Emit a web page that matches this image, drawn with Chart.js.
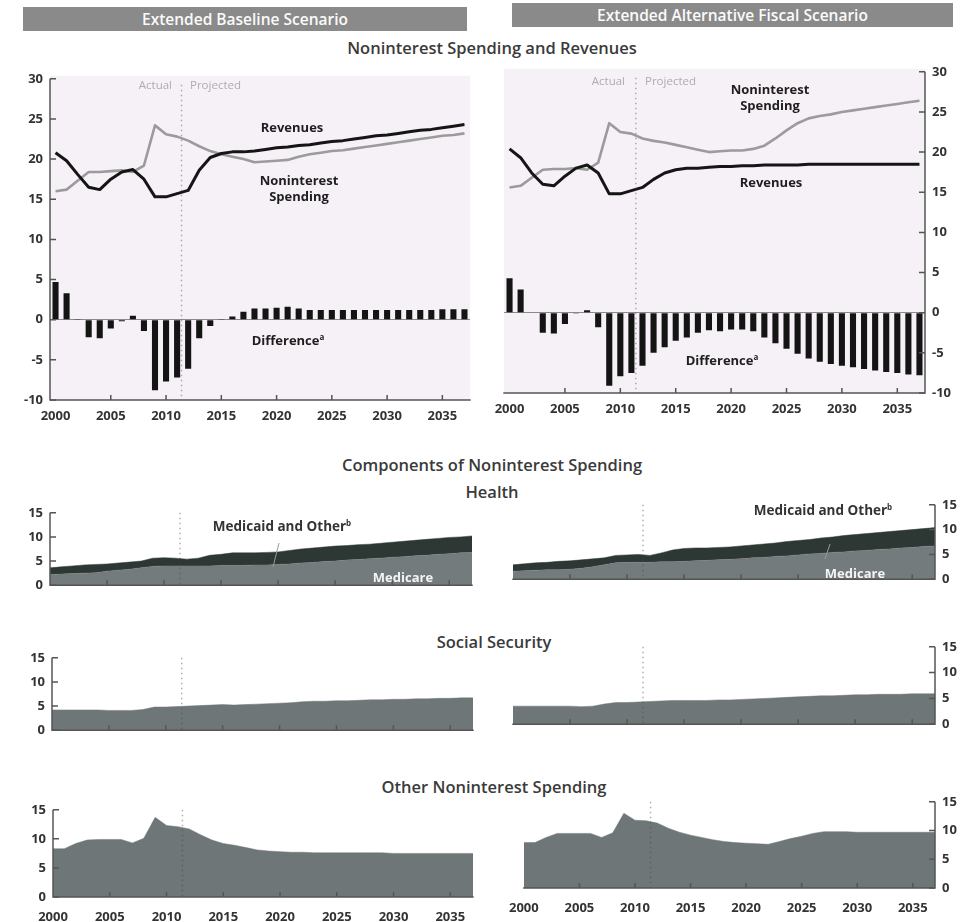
<!DOCTYPE html>
<html>
<head>
<meta charset="utf-8">
<script src="https://cdn.jsdelivr.net/npm/chart.js@4.4.1/dist/chart.umd.min.js"></script>
<style>
  html, body { margin: 0; padding: 0; background: #fff; }
  body { position: relative; width: 961px; height: 922px; overflow: hidden; font-family: "Open Sans", "Noto Sans", sans-serif; }
  .box { position: absolute; }
  .banner { position: absolute; height: 24px; line-height: 24px; background: #8a8a8a; color: #fbfbfb; font-weight: 600; font-size: 15.5px; text-align: center; }
  .c { position: absolute; transform: translate(-50%, -50%); white-space: nowrap; font-weight: 700; line-height: 1.2; text-align: center; color: #2a2a2a; }
  .head { font-size: 16.5px; color: #3a3a3a; font-weight: 600; }
  .lbl { font-size: 13px; color: #1e1e1e; }
  .note { font-size: 11.5px; font-weight: 400; color: #adadad; transform: translate(0, -50%); }
  .noteR { font-size: 11.5px; font-weight: 400; color: #adadad; transform: translate(-100%, -50%); }
  .white { color: #f4f4f4; font-size: 13px; }
  sup { font-size: 8px; vertical-align: 5px; line-height: 0; }
</style>
</head>
<body>

<div class="banner" style="left:23px; top:7px; width:444px;">Extended Baseline Scenario</div>
<div class="banner" style="left:512px; top:3px; width:441px;">Extended Alternative Fiscal Scenario</div>

<div class="c head" style="left:492px; top:48px;">Noninterest Spending and Revenues</div>

<div class="box" id="wTopL"><canvas id="topL"></canvas></div>
<div class="box" id="wTopR"><canvas id="topR"></canvas></div>

<div class="c head" style="left:492px; top:465px;">Components of Noninterest Spending</div>
<div class="c head" style="left:492px; top:492px;">Health</div>
<div class="box" id="wHealthL"><canvas id="healthL"></canvas></div>
<div class="box" id="wHealthR"><canvas id="healthR"></canvas></div>

<div class="c head" style="left:494px; top:642px;">Social Security</div>
<div class="box" id="wSocialL"><canvas id="socialL"></canvas></div>
<div class="box" id="wSocialR"><canvas id="socialR"></canvas></div>

<div class="c head" style="left:494px; top:787px;">Other Noninterest Spending</div>
<div class="box" id="wOtherL"><canvas id="otherL"></canvas></div>
<div class="box" id="wOtherR"><canvas id="otherR"></canvas></div>

<!-- annotations, upper panels -->
<div class="c noteR" style="left:172px; top:85px;">Actual</div>
<div class="c note" style="left:190px; top:85px;">Projected</div>
<div class="c noteR" style="left:625px; top:81px;">Actual</div>
<div class="c note" style="left:645px; top:81px;">Projected</div>

<div class="c lbl" style="left:292px; top:128px;">Revenues</div>
<div class="c lbl" style="left:299px; top:189px;">Noninterest<br>Spending</div>
<div class="c lbl" style="left:288px; top:341px;">Difference<sup>a</sup></div>

<div class="c lbl" style="left:770px; top:98px;">Noninterest<br>Spending</div>
<div class="c lbl" style="left:771px; top:183px;">Revenues</div>
<div class="c lbl" style="left:722px; top:361px;">Difference<sup>a</sup></div>

<!-- annotations, health panels -->
<div class="c lbl" style="left:282px; top:526px; color:#333; font-size:13.5px;">Medicaid and Other<sup>b</sup></div>
<div class="c white" style="left:403px; top:578px;">Medicare</div>
<div class="c lbl" style="left:823px; top:510px; color:#333; font-size:13.5px;">Medicaid and Other<sup>b</sup></div>
<div class="c white" style="left:855px; top:574px;">Medicare</div>
<svg class="box" style="left:0; top:0;" width="961" height="922">
  <line x1="279" y1="543" x2="273" y2="567" stroke="#9a9a9a" stroke-width="1"/>
  <line x1="830" y1="544" x2="825" y2="559" stroke="#9a9a9a" stroke-width="1"/>
</svg>

<script>
// Fiscal years shown on every panel
const years = [2000, 2001, 2002, 2003, 2004, 2005, 2006, 2007, 2008, 2009,
               2010, 2011, 2012, 2013, 2014, 2015, 2016, 2017, 2018, 2019,
               2020, 2021, 2022, 2023, 2024, 2025, 2026, 2027, 2028, 2029,
               2030, 2031, 2032, 2033, 2034, 2035, 2036, 2037];
const yearTicks = [2000, 2005, 2010, 2015, 2020, 2025, 2030, 2035];
const projectionStart = 2011.4;   // boundary between actual and projected years

// Percentage of GDP — extended baseline scenario
const revenuesBaseline = [20.8, 19.8, 18.1, 16.5, 16.2, 17.5, 18.4, 18.7, 17.5, 15.3,
                          15.3, 15.7, 16.1, 18.6, 20.2, 20.7, 20.9, 20.9, 21.0, 21.2,
                          21.4, 21.5, 21.7, 21.8, 22.0, 22.2, 22.3, 22.5, 22.7, 22.9,
                          23.0, 23.2, 23.4, 23.6, 23.7, 23.9, 24.1, 24.3];
const spendingBaseline = [16.0, 16.2, 17.3, 18.4, 18.4, 18.5, 18.6, 18.4, 19.2, 24.2,
                          23.1, 22.8, 22.3, 21.6, 21.0, 20.6, 20.3, 20.0, 19.6, 19.7,
                          19.8, 19.9, 20.3, 20.6, 20.8, 21.0, 21.1, 21.3, 21.5, 21.7,
                          21.9, 22.1, 22.3, 22.5, 22.7, 22.9, 23.0, 23.2];
const differenceBaseline = [4.7, 3.3, 0.1, -2.2, -2.3, -1.1, -0.2, 0.5, -1.4, -8.8,
                            -7.7, -7.2, -6.1, -2.3, -0.8, 0.1, 0.4, 1.0, 1.4, 1.4,
                            1.5, 1.6, 1.4, 1.2, 1.2, 1.2, 1.2, 1.2, 1.2, 1.2,
                            1.2, 1.2, 1.2, 1.2, 1.2, 1.3, 1.3, 1.3];

// Percentage of GDP — extended alternative fiscal scenario
const revenuesAlternative = [20.4, 19.3, 17.4, 16.0, 15.8, 17.0, 18.0, 18.4, 17.4, 14.8,
                             14.8, 15.2, 15.6, 16.6, 17.4, 17.8, 18.0, 18.0, 18.1, 18.2,
                             18.2, 18.3, 18.3, 18.4, 18.4, 18.4, 18.4, 18.5, 18.5, 18.5,
                             18.5, 18.5, 18.5, 18.5, 18.5, 18.5, 18.5, 18.5];
const spendingAlternative = [15.6, 15.8, 16.8, 17.8, 17.9, 17.9, 18.0, 17.8, 18.7, 23.6,
                             22.5, 22.3, 21.7, 21.4, 21.2, 20.9, 20.6, 20.3, 20.0, 20.1,
                             20.2, 20.2, 20.4, 20.8, 21.7, 22.7, 23.6, 24.2, 24.5, 24.7,
                             25.0, 25.2, 25.4, 25.6, 25.8, 26.0, 26.2, 26.4];
const differenceAlternative = [4.3, 2.9, 0.05, -2.5, -2.6, -1.4, -0.1, 0.3, -1.8, -9.1,
                               -7.9, -7.5, -6.6, -5.0, -4.3, -3.5, -3.1, -2.5, -2.2, -2.3,
                               -2.1, -2.1, -2.3, -3.1, -3.8, -4.5, -5.1, -5.7, -6.1, -6.4,
                               -6.6, -6.8, -7.0, -7.2, -7.4, -7.5, -7.7, -7.8];

// Components of noninterest spending, percentage of GDP
const medicareBaseline = [2.2, 2.3, 2.4, 2.5, 2.6, 2.9, 3.1, 3.3, 3.6, 3.9,
                          4.0, 4.0, 4.0, 4.0, 4.0, 4.1, 4.1, 4.1, 4.2, 4.2,
                          4.3, 4.4, 4.6, 4.7, 4.9, 5.0, 5.2, 5.3, 5.5, 5.6,
                          5.8, 5.9, 6.1, 6.2, 6.4, 6.5, 6.7, 6.8];
const medicaidOtherBaseline = [1.4, 1.5, 1.6, 1.7, 1.7, 1.5, 1.5, 1.5, 1.4, 1.7,
                               1.7, 1.6, 1.4, 1.6, 2.2, 2.3, 2.6, 2.6, 2.5, 2.6,
                               2.6, 2.8, 2.9, 3.0, 3.0, 3.1, 3.0, 3.1, 3.0, 3.1,
                               3.1, 3.2, 3.2, 3.3, 3.3, 3.4, 3.3, 3.4];
const medicareAlternative = [1.6, 1.7, 1.8, 1.9, 1.9, 2.0, 2.2, 2.5, 2.9, 3.3,
                             3.4, 3.4, 3.4, 3.5, 3.5, 3.6, 3.7, 3.8, 3.9, 4.0,
                             4.1, 4.3, 4.4, 4.6, 4.7, 4.9, 5.1, 5.2, 5.4, 5.5,
                             5.7, 5.8, 6.0, 6.1, 6.3, 6.4, 6.6, 6.7];
const medicaidOtherAlternative = [1.3, 1.4, 1.5, 1.5, 1.7, 1.7, 1.7, 1.6, 1.4, 1.5,
                                  1.5, 1.6, 1.4, 1.8, 2.4, 2.6, 2.6, 2.5, 2.5, 2.5,
                                  2.6, 2.6, 2.7, 2.7, 2.9, 2.9, 2.9, 3.1, 3.1, 3.3,
                                  3.3, 3.4, 3.4, 3.5, 3.5, 3.6, 3.6, 3.7];
const socialSecurityBaseline = [4.2, 4.2, 4.2, 4.2, 4.2, 4.1, 4.1, 4.1, 4.3, 4.8,
                                4.8, 4.9, 5.0, 5.1, 5.2, 5.3, 5.2, 5.3, 5.4, 5.5,
                                5.6, 5.7, 5.9, 6.0, 6.0, 6.1, 6.1, 6.2, 6.3, 6.3,
                                6.4, 6.4, 6.5, 6.5, 6.6, 6.6, 6.7, 6.7];
const socialSecurityAlternative = [3.5, 3.5, 3.5, 3.5, 3.5, 3.5, 3.4, 3.5, 3.9, 4.2,
                                   4.2, 4.3, 4.4, 4.5, 4.6, 4.6, 4.6, 4.6, 4.7, 4.7,
                                   4.8, 4.9, 5.0, 5.1, 5.2, 5.3, 5.4, 5.5, 5.5, 5.6,
                                   5.7, 5.7, 5.8, 5.8, 5.8, 5.9, 5.9, 5.9];
const otherSpendingBaseline = [8.3, 8.3, 9.2, 9.8, 9.9, 9.9, 9.9, 9.3, 10.1, 13.7,
                               12.3, 12.1, 11.7, 10.7, 9.8, 9.2, 8.9, 8.5, 8.1, 7.9,
                               7.8, 7.7, 7.7, 7.6, 7.6, 7.6, 7.6, 7.6, 7.6, 7.6,
                               7.5, 7.5, 7.5, 7.5, 7.5, 7.5, 7.5, 7.5];
const otherSpendingAlternative = [7.9, 7.9, 8.8, 9.5, 9.5, 9.5, 9.5, 8.8, 9.6, 13.0,
                                  11.8, 11.7, 11.3, 10.4, 9.7, 9.2, 8.8, 8.4, 8.1, 7.9,
                                  7.8, 7.7, 7.6, 8.1, 8.6, 9.0, 9.5, 9.8, 9.8, 9.8,
                                  9.7, 9.7, 9.7, 9.7, 9.7, 9.7, 9.7, 9.7];

// Axis ranges
const balanceRange = [-10, 30];
const componentRange = [0, 15];

const INK = '#555555';
const tickFont = { family: '"Open Sans", "Noto Sans", sans-serif', size: 13, weight: '700' };

// Plot background, actual/projected divider, axis lines and inward tick marks
const framePlugin = {
  id: 'frame',
  beforeDraw(chart, args, opts) {
    if (!opts.background) return;
    const { ctx, chartArea: a } = chart;
    ctx.save();
    ctx.fillStyle = opts.background;
    ctx.fillRect(a.left, a.top - 3, a.right - a.left, a.bottom - a.top + 3);
    ctx.restore();
  },
  afterDatasetsDraw(chart, args, opts) {
    const { ctx, chartArea: a, scales: { x } } = chart;
    const i = years.indexOf(Math.floor(projectionStart));
    const p0 = x.getPixelForValue(i), p1 = x.getPixelForValue(i + 1);
    const px = p0 + (projectionStart - years[i]) * (p1 - p0);
    ctx.save();
    ctx.strokeStyle = 'rgba(70,70,70,0.45)';
    ctx.lineWidth = 1.4;
    ctx.setLineDash([1.5, 3.5]);
    ctx.beginPath();
    ctx.moveTo(px, a.top + (opts.dividerInset || 0));
    ctx.lineTo(px, a.bottom);
    ctx.stroke();
    ctx.restore();
  },
  afterDraw(chart) {
    const { ctx, chartArea: a, scales: { x, y } } = chart;
    const left = y.position === 'left';
    const ax = left ? a.left : a.right;
    const dir = left ? 1 : -1;
    ctx.save();
    ctx.setLineDash([]);
    ctx.strokeStyle = INK;
    ctx.lineWidth = 1.5;
    ctx.lineCap = 'butt';
    // axis lines
    ctx.beginPath();
    ctx.moveTo(ax, a.top);
    ctx.lineTo(ax, a.bottom);
    ctx.moveTo(a.left - 0.7, a.bottom);
    ctx.lineTo(a.right + 0.7, a.bottom);
    ctx.stroke();
    // inward ticks on the value axis
    ctx.beginPath();
    y.ticks.forEach(t => {
      const py = y.getPixelForValue(t.value);
      ctx.moveTo(ax, py);
      ctx.lineTo(ax + dir * 6, py);
    });
    // inward ticks on the year axis
    yearTicks.forEach(yr => {
      const idx = years.indexOf(yr);
      if (idx <= 0) return;
      const tx = x.getPixelForValue(idx);
      ctx.moveTo(tx, a.bottom);
      ctx.lineTo(tx, a.bottom - 5);
    });
    ctx.stroke();
    ctx.restore();
  }
};

// Positions a chart's container so that its plot area lands on the given box
function placeChart(wrapId, box, side, xh, yw) {
  const el = document.getElementById(wrapId);
  const left = side === 'left' ? box.x0 - yw : box.x0 - 10;
  const right = side === 'left' ? box.x1 + 10 : box.x1 + yw;
  const top = box.y0 - 10;
  el.style.left = left + 'px';
  el.style.top = top + 'px';
  el.style.width = (right - left) + 'px';
  el.style.height = (box.y1 + xh - top) + 'px';
  return side === 'left' ? { top: 10, right: 10, left: 0, bottom: 0 } : { top: 10, left: 10, right: 0, bottom: 0 };
}

function xAxis(offset, showLabels, xh, pad) {
  return {
    type: 'category',
    offset: offset,
    grid: { display: false },
    border: { display: false },
    ticks: {
      display: showLabels,
      autoSkip: false,
      maxRotation: 0,
      padding: pad,
      color: '#333',
      font: tickFont,
      callback: (v, i) => (yearTicks.includes(years[i]) ? String(years[i]) : '')
    },
    afterFit: s => { s.height = xh; }
  };
}

function yAxis(side, range, yw, stacked, zeroLine) {
  return {
    position: side,
    min: range[0],
    max: range[1],
    stacked: stacked,
    grid: {
      display: zeroLine,
      drawTicks: false,
      color: c => (c.tick && c.tick.value === 0 ? '#8a8a8a' : 'rgba(0,0,0,0)'),
      lineWidth: 1
    },
    border: { display: false },
    ticks: { stepSize: 5, padding: 7, color: '#333', font: tickFont },
    afterFit: s => { s.width = yw; }
  };
}

function balanceChart(canvasId, wrapId, box, side, revenues, spending, difference) {
  const yw = side === 'left' ? 50 : 36;
  const padding = placeChart(wrapId, box, side, 34, yw);
  new Chart(document.getElementById(canvasId), {
    type: 'bar',
    data: {
      labels: years,
      datasets: [
        { type: 'line', label: 'Revenues', data: revenues, borderColor: '#151515', borderWidth: 3,
          pointRadius: 0, tension: 0, order: 0, borderJoinStyle: 'round' },
        { type: 'line', label: 'Noninterest Spending', data: spending, borderColor: '#9b9b9b', borderWidth: 2.6,
          pointRadius: 0, tension: 0, order: 1, borderJoinStyle: 'round' },
        { type: 'bar', label: 'Difference', data: difference, backgroundColor: '#141414',
          categoryPercentage: 1, barPercentage: 0.55, order: 2 }
      ]
    },
    options: {
      responsive: true, maintainAspectRatio: false, animation: false,
      layout: { padding: padding },
      plugins: { legend: { display: false }, tooltip: { enabled: false },
                 frame: { background: '#f6f1f6', dividerInset: 6 } },
      scales: { x: xAxis(true, true, 34, 0), y: yAxis(side, balanceRange, yw, false, true) }
    },
    plugins: [framePlugin]
  });
}

function componentChart(canvasId, wrapId, box, side, layers, showYears) {
  const xh = showYears ? 26 : 2;
  const yw = side === 'left' ? 50 : 26;
  const padding = placeChart(wrapId, box, side, xh, yw);
  new Chart(document.getElementById(canvasId), {
    type: 'line',
    data: {
      labels: years,
      datasets: layers.map((l, k) => ({
        label: l.label, data: l.data, fill: k === 0 ? 'origin' : '-1',
        backgroundColor: l.color, borderColor: l.color, borderWidth: 0.5,
        pointRadius: 0, tension: 0
      }))
    },
    options: {
      responsive: true, maintainAspectRatio: false, animation: false,
      layout: { padding: padding },
      plugins: { legend: { display: false }, tooltip: { enabled: false }, filler: { propagate: false },
                 frame: { dividerInset: 0 } },
      scales: { x: xAxis(false, showYears, xh, 4), y: yAxis(side, componentRange, yw, true, false) }
    },
    plugins: [framePlugin]
  });
}

const MEDICARE = '#747b7c';
const MEDICAID = '#2d3835';
const FILL = '#6f7677';

balanceChart('topL', 'wTopL', { x0: 50, x1: 470, y0: 74, y1: 400 }, 'left',
             revenuesBaseline, spendingBaseline, differenceBaseline);
balanceChart('topR', 'wTopR', { x0: 504, x1: 925, y0: 67, y1: 393 }, 'right',
             revenuesAlternative, spendingAlternative, differenceAlternative);

componentChart('healthL', 'wHealthL', { x0: 50, x1: 472, y0: 508, y1: 598 }, 'left',
  [{ label: 'Medicare', data: medicareBaseline, color: MEDICARE },
   { label: 'Medicaid and Other', data: medicaidOtherBaseline, color: MEDICAID }], false);
componentChart('healthR', 'wHealthR', { x0: 513, x1: 935, y0: 500, y1: 592 }, 'right',
  [{ label: 'Medicare', data: medicareAlternative, color: MEDICARE },
   { label: 'Medicaid and Other', data: medicaidOtherAlternative, color: MEDICAID }], false);

componentChart('socialL', 'wSocialL', { x0: 52, x1: 473, y0: 653, y1: 743 }, 'left',
  [{ label: 'Social Security', data: socialSecurityBaseline, color: FILL }], false);
componentChart('socialR', 'wSocialR', { x0: 513, x1: 935, y0: 642, y1: 737 }, 'right',
  [{ label: 'Social Security', data: socialSecurityAlternative, color: FILL }], false);

componentChart('otherL', 'wOtherL', { x0: 53, x1: 473, y0: 805, y1: 897 }, 'left',
  [{ label: 'Other Noninterest Spending', data: otherSpendingBaseline, color: FILL }], true);
componentChart('otherR', 'wOtherR', { x0: 515, x1: 935, y0: 797, y1: 888 }, 'right',
  [{ label: 'Other Noninterest Spending', data: otherSpendingAlternative, color: FILL }], true);
</script>
</body>
</html>
